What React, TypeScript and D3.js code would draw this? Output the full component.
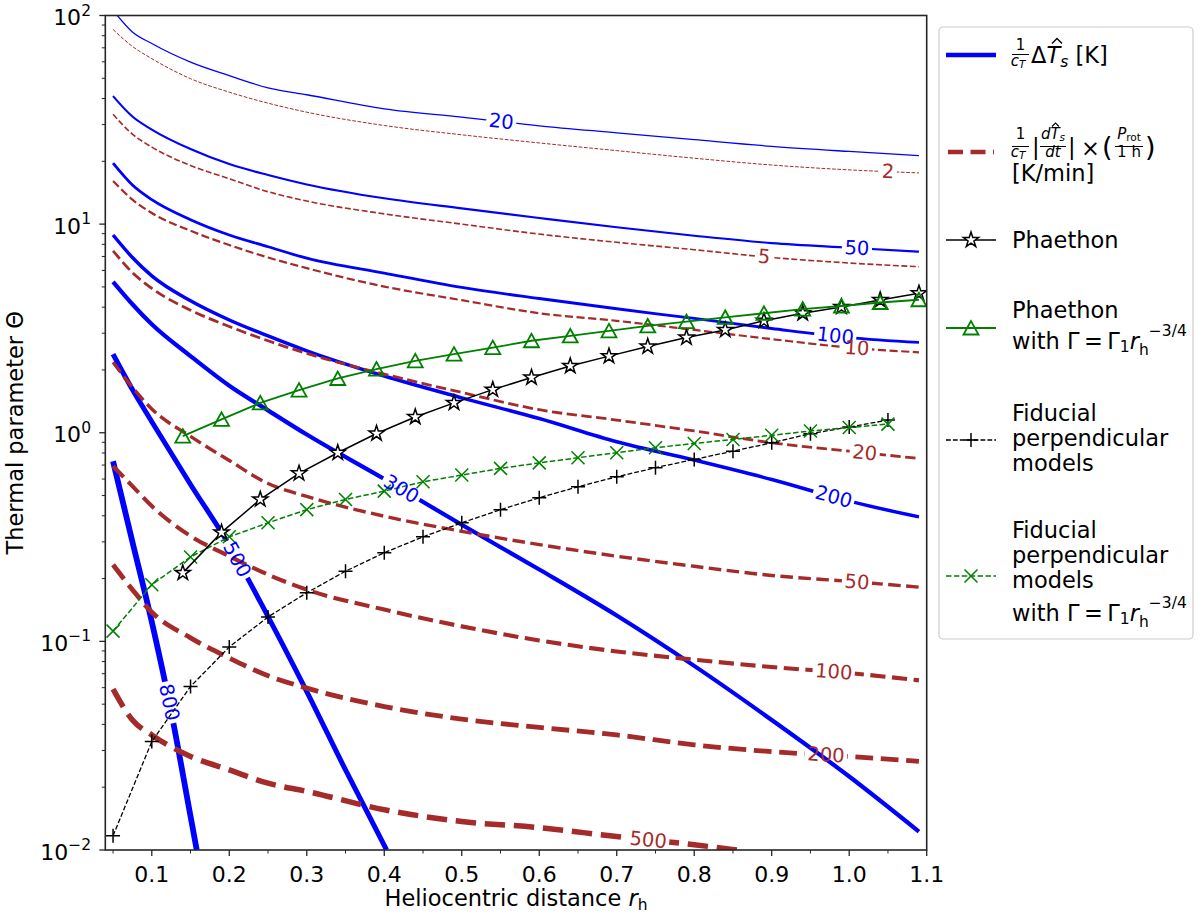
import { curveLinear, curveMonotoneX, line, scaleLinear, scaleLog } from 'd3';

// heliocentric distance grid of the contour polylines
const rGrid = [0.05, 0.075, 0.1, 0.15, 0.2, 0.25, 0.3, 0.4, 0.5, 0.6, 0.7, 0.8, 0.9, 1.0, 1.09];

// (1/c_T) dT_s [K] contours, levels 20 .. 800
const dT20 = [106, 83.4, 73.4, 59.8, 51.5, 45.0, 41.7, 35.7, 32.6, 29.6, 27.4, 25.4, 23.6, 22.3, 21.3];
const dT50 = [41.1, 32.8, 28.4, 22.9, 19.4, 17.2, 15.5, 13.3, 11.9, 10.7, 9.66, 8.8, 8.11, 7.71, 7.38];
const dT100 = [19.6, 15.4, 13.1, 10.5, 8.87, 7.79, 6.87, 5.82, 4.97, 4.4, 3.93, 3.53, 3.16, 2.86, 2.71];
const dT200 = [8.87, 6.92, 5.65, 4.29, 3.47, 2.91, 2.47, 1.87, 1.47, 1.17, 0.906, 0.74, 0.597, 0.47, 0.395];
const dT300 = [5.29, 4.13, 3.31, 2.33, 1.68, 1.28, 0.98, 0.6, 0.362, 0.221, 0.133, 0.0763, 0.042, 0.0225, 0.01225];
const rGrid500 = [0.05, 0.075, 0.1, 0.15, 0.2, 0.25, 0.3, 0.35, 0.403];
const dT500 = [2.38, 1.61, 1.13, 0.565, 0.289, 0.1315, 0.0575, 0.0242, 0.01];
const rGrid800 = [0.05, 0.075, 0.1, 0.125, 0.15, 0.158];
const dT800 = [0.73, 0.3, 0.124, 0.046, 0.0145, 0.01];

// (1/c_T)|dT_s/dt| x (P_rot/1h) [K/min] contours, levels 2 .. 500
const rate2 = [85.7, 71.1, 62.1, 49.8, 42.9, 38.0, 34.4, 29.7, 26.8, 24.5, 22.5, 20.7, 19.2, 18.2, 17.6];
const rate5 = [33.6, 27.0, 23.4, 19.1, 16.5, 14.3, 12.9, 11.2, 10.0, 8.96, 8.18, 7.54, 6.92, 6.51, 6.25];
const rate10 = [16.1, 13.1, 11.3, 9.29, 7.94, 6.92, 6.15, 5.02, 4.32, 3.74, 3.44, 3.11, 2.81, 2.56, 2.43];
const rate20 = [7.45, 5.86, 4.92, 3.87, 3.23, 2.76, 2.4, 1.91, 1.56, 1.29, 1.15, 1.02, 0.895, 0.816, 0.753];
const rate50 = [2.18, 1.65, 1.3, 0.96, 0.736, 0.571, 0.495, 0.398, 0.337, 0.291, 0.256, 0.229, 0.207, 0.194, 0.182];
const rate100 = [0.692, 0.555, 0.445, 0.32, 0.256, 0.209, 0.177, 0.142, 0.118, 0.101, 0.0895, 0.0817, 0.0753, 0.0705, 0.065];
const rate200 = [0.233, 0.177, 0.138, 0.104, 0.0832, 0.0684, 0.0597, 0.0487, 0.0424, 0.0387, 0.0356, 0.0319, 0.0296, 0.0281, 0.0266];
const rGridRate500 = [0.05, 0.075, 0.1, 0.15, 0.2, 0.25, 0.3, 0.4, 0.5, 0.6, 0.7, 0.8, 0.855];
const rate500 = [0.059, 0.042, 0.0356, 0.0281, 0.0242, 0.0209, 0.0191, 0.0156, 0.0137, 0.0128, 0.0116, 0.0106, 0.01];

// model curves
const rPhaethon = [0.14, 0.19, 0.24, 0.29, 0.34, 0.39, 0.44, 0.49, 0.54, 0.59, 0.64, 0.69, 0.74, 0.79, 0.84, 0.89, 0.94, 0.99, 1.04, 1.09];
const thetaPhaethon = [0.213, 0.333, 0.479, 0.639, 0.802, 0.992, 1.19, 1.39, 1.61, 1.84, 2.09, 2.33, 2.59, 2.86, 3.11, 3.44, 3.74, 4.01, 4.33, 4.66];
const thetaPhaethonGamma = [0.963, 1.16, 1.39, 1.6, 1.82, 2.02, 2.21, 2.38, 2.56, 2.76, 2.91, 3.08, 3.25, 3.41, 3.57, 3.74, 3.91, 4.05, 4.21, 4.34];
const rFiducial = [0.05, 0.1, 0.15, 0.2, 0.25, 0.3, 0.35, 0.4, 0.45, 0.5, 0.55, 0.6, 0.65, 0.7, 0.75, 0.8, 0.85, 0.9, 0.95, 1.0, 1.05];
const thetaFiducial = [0.0117, 0.0331, 0.0608, 0.094, 0.131, 0.171, 0.217, 0.266, 0.317, 0.37, 0.428, 0.488, 0.551, 0.615, 0.68, 0.745, 0.816, 0.895, 0.99, 1.065, 1.15];
const thetaFiducialGamma = [0.112, 0.187, 0.254, 0.317, 0.37, 0.428, 0.479, 0.525, 0.582, 0.627, 0.675, 0.717, 0.759, 0.802, 0.848, 0.889, 0.929, 0.972, 1.02, 1.06, 1.1];

// axis ticks
const xTicks = [0.1, 0.2, 0.3, 0.4, 0.5, 0.6, 0.7, 0.8, 0.9, 1.0, 1.1];
const xTickLabels = ['0.1', '0.2', '0.3', '0.4', '0.5', '0.6', '0.7', '0.8', '0.9', '1.0', '1.1'];
const yTicks = [0.01, 0.1, 1, 10, 100];
const yTickExponents = ['\u22122', '\u22121', '0', '1', '2'];

const W = 1200;
const H = 921;
const FONT = 'DejaVu Sans';
const BLUE = '#0000ff';
const BROWN = '#a52a2a';
const GREEN = '#008000';
const FS = 22.5;

const xS = scaleLinear().domain([0.04, 1.1]).range([105.3, 926.7]);
const yS = scaleLog().domain([0.01, 100]).range([850, 15.5]);

interface Contour {
  level: number;
  r: number[];
  v: number[];
  color: string;
  width: number;
  dashed: boolean;
  labelR: number;
}

const dTContours: Contour[] = [
  { level: 20, r: rGrid, v: dT20, color: BLUE, width: 1.3, dashed: false, labelR: 0.551 },
  { level: 50, r: rGrid, v: dT50, color: BLUE, width: 2.1, dashed: false, labelR: 1.01 },
  { level: 100, r: rGrid, v: dT100, color: BLUE, width: 2.8, dashed: false, labelR: 0.982 },
  { level: 200, r: rGrid, v: dT200, color: BLUE, width: 3.5, dashed: false, labelR: 0.98 },
  { level: 300, r: rGrid, v: dT300, color: BLUE, width: 4.2, dashed: false, labelR: 0.422 },
  { level: 500, r: rGrid500, v: dT500, color: BLUE, width: 5.0, dashed: false, labelR: 0.21 },
  { level: 800, r: rGrid800, v: dT800, color: BLUE, width: 5.8, dashed: false, labelR: 0.1224 },
];

const rateContours: Contour[] = [
  { level: 2, r: rGrid, v: rate2, color: BROWN, width: 1.0, dashed: true, labelR: 1.05 },
  { level: 5, r: rGrid, v: rate5, color: BROWN, width: 1.6, dashed: true, labelR: 0.89 },
  { level: 10, r: rGrid, v: rate10, color: BROWN, width: 2.2, dashed: true, labelR: 1.01 },
  { level: 20, r: rGrid, v: rate20, color: BROWN, width: 2.8, dashed: true, labelR: 1.02 },
  { level: 50, r: rGrid, v: rate50, color: BROWN, width: 3.4, dashed: true, labelR: 1.01 },
  { level: 100, r: rGrid, v: rate100, color: BROWN, width: 4.1, dashed: true, labelR: 0.98 },
  { level: 200, r: rGrid, v: rate200, color: BROWN, width: 4.8, dashed: true, labelR: 0.97 },
  { level: 500, r: rGridRate500, v: rate500, color: BROWN, width: 5.5, dashed: true, labelR: 0.7406 },
];

const contourLine = line<[number, number]>()
  .x((d) => xS(d[0]))
  .y((d) => yS(d[1]))
  .curve(curveMonotoneX);

const seriesLine = line<[number, number]>()
  .x((d) => xS(d[0]))
  .y((d) => yS(d[1]))
  .curve(curveLinear);

const zip = (r: number[], v: number[]) => r.map((x, i) => [x, v[i]] as [number, number]);

// position and angle of an inline contour label
const labelPose = (c: Contour) => {
  const pts = c.r.map((r, i) => [xS(r), yS(c.v[i])]);
  const x = xS(c.labelR);
  let i = 0;
  while (i < pts.length - 2 && pts[i + 1][0] < x) i++;
  const [x0, y0] = pts[i];
  const [x1, y1] = pts[i + 1];
  const t = (x - x0) / (x1 - x0);
  const y = y0 + t * (y1 - y0);
  const angle = (Math.atan2(y1 - y0, x1 - x0) * 180) / Math.PI;
  return { x, y, angle };
};

const starPath = (R: number) => {
  const pts: string[] = [];
  for (let k = 0; k < 10; k++) {
    const rad = k % 2 === 0 ? R : R * 0.382;
    const a = -Math.PI / 2 + (k * Math.PI) / 5;
    pts.push(`${(rad * Math.cos(a)).toFixed(2)},${(rad * Math.sin(a)).toFixed(2)}`);
  }
  return `M${pts.join('L')}Z`;
};

const Star = ({ x, y }: { x: number; y: number }) => (
  <path d={starPath(8)} transform={`translate(${x},${y})`} fill="white" stroke="black" strokeWidth={1.5} />
);
const Triangle = ({ x, y }: { x: number; y: number }) => (
  <path d="M0,-7L-7.5,6.5L7.5,6.5Z" transform={`translate(${x},${y})`} fill="none" stroke={GREEN} strokeWidth={1.8} />
);
const Plus = ({ x, y }: { x: number; y: number }) => (
  <path d="M-7,0H7M0,-7V7" transform={`translate(${x},${y})`} stroke="black" strokeWidth={1.5} />
);
const Cross = ({ x, y }: { x: number; y: number }) => (
  <path d="M-6.5,-6.5L6.5,6.5M-6.5,6.5L6.5,-6.5" transform={`translate(${x},${y})`} stroke={GREEN} strokeWidth={1.5} />
);

const ContourLayer = ({ contours, prefix }: { contours: Contour[]; prefix: string }) => (
  <>
    {contours.map((c, i) => {
      const p = labelPose(c);
      const tw = String(c.level).length * 12.1 + 6;
      const id = `${prefix}-${i}`;
      return (
        <g key={id}>
          <mask id={id} maskUnits="userSpaceOnUse" x={0} y={0} width={W} height={H}>
            <rect width={W} height={H} fill="white" />
            <rect
              x={-tw / 2}
              y={-11}
              width={tw}
              height={22}
              fill="black"
              transform={`translate(${p.x},${p.y}) rotate(${p.angle})`}
            />
          </mask>
          <path
            d={contourLine(zip(c.r, c.v)) ?? ''}
            fill="none"
            stroke={c.color}
            strokeWidth={c.width}
            strokeDasharray={c.dashed ? `${3.7 * c.width},${1.6 * c.width}` : undefined}
            mask={`url(#${id})`}
          />
        </g>
      );
    })}
  </>
);

const ContourLabels = ({ contours }: { contours: Contour[] }) => (
  <>
    {contours.map((c, i) => {
      const p = labelPose(c);
      return (
        <text
          key={i}
          transform={`translate(${p.x},${p.y}) rotate(${p.angle})`}
          textAnchor="middle"
          dominantBaseline="central"
          fontSize={19.5}
          fill={c.color}
        >
          {c.level}
        </text>
      );
    })}
  </>
);

const GammaLaw = ({ x, y }: { x: number; y: number }) => (
  <text x={x} y={y} fontSize={FS}>
    with Γ{'\u2009'}={'\u2009'}Γ<tspan fontSize={15.5} dy={3}>1</tspan>
    <tspan fontStyle="italic" dy={-3}>r</tspan>
    <tspan fontSize={15.5} dy={6}>h</tspan>
    <tspan fontSize={15.5} dy={-19}>−3/4</tspan>
  </text>
);

const minorX = xTicks.map((t) => t - 0.05);
const minorY: number[] = [];
for (let d = -2; d < 2; d++) for (let k = 2; k <= 9; k++) minorY.push(k * 10 ** d);

export default function App() {
  const L = 105.3;
  const R = 926.7;
  const T = 15.5;
  const B = 850;
  const axisColor = '#262626';

  return (
    <svg
      width={W}
      height={H}
      viewBox={`0 0 ${W} ${H}`}
      style={{ position: 'absolute', left: 0, top: 0, background: 'white' }}
      fontFamily={FONT}
    >
      <defs>
        <clipPath id="plot-clip">
          <rect x={L} y={T} width={R - L} height={B - T} />
        </clipPath>
      </defs>
      <rect width={W} height={H} fill="white" />

      <g clipPath="url(#plot-clip)">
        <ContourLayer contours={dTContours} prefix="dt" />
        <ContourLayer contours={rateContours} prefix="rate" />

        <path d={seriesLine(zip(rFiducial, thetaFiducial)) ?? ''} fill="none" stroke="black" strokeWidth={1.3} strokeDasharray="4.8,2.1" />
        {rFiducial.map((r, i) => (
          <Plus key={`p${i}`} x={xS(r)} y={yS(thetaFiducial[i])} />
        ))}
        <path d={seriesLine(zip(rFiducial, thetaFiducialGamma)) ?? ''} fill="none" stroke={GREEN} strokeWidth={1.5} strokeDasharray="5.5,2.4" />
        {rFiducial.map((r, i) => (
          <Cross key={`x${i}`} x={xS(r)} y={yS(thetaFiducialGamma[i])} />
        ))}
        <path d={seriesLine(zip(rPhaethon, thetaPhaethon)) ?? ''} fill="none" stroke="black" strokeWidth={1.5} />
        {rPhaethon.map((r, i) => (
          <Star key={`s${i}`} x={xS(r)} y={yS(thetaPhaethon[i])} />
        ))}
        <path d={seriesLine(zip(rPhaethon, thetaPhaethonGamma)) ?? ''} fill="none" stroke={GREEN} strokeWidth={1.8} />
        {rPhaethon.map((r, i) => (
          <Triangle key={`t${i}`} x={xS(r)} y={yS(thetaPhaethonGamma[i])} />
        ))}

        <ContourLabels contours={dTContours} />
        <ContourLabels contours={rateContours} />
      </g>

      {/* axes frame */}
      <rect x={L} y={T} width={R - L} height={B - T} fill="none" stroke={axisColor} strokeWidth={1.6} />

      {/* x ticks */}
      {xTicks.map((t, i) => (
        <g key={`xt${i}`}>
          <line x1={xS(t)} x2={xS(t)} y1={B} y2={B + 6} stroke={axisColor} strokeWidth={1.3} />
          <text x={xS(t)} y={B + 31.5} textAnchor="middle" fontSize={22}>
            {xTickLabels[i]}
          </text>
        </g>
      ))}
      {minorX.map((t, i) => (
        <line key={`xm${i}`} x1={xS(t)} x2={xS(t)} y1={B} y2={B + 3.5} stroke={axisColor} strokeWidth={1} />
      ))}

      {/* y ticks */}
      {yTicks.map((t, i) => (
        <g key={`yt${i}`}>
          <line x1={L - 6} x2={L} y1={yS(t)} y2={yS(t)} stroke={axisColor} strokeWidth={1.3} />
          <text x={91} y={yS(t) + 9.5} textAnchor="end" fontSize={22}>
            10
            <tspan dy={-9.5} fontSize={15.5}>
              {yTickExponents[i]}
            </tspan>
          </text>
        </g>
      ))}
      {minorY.map((t, i) => (
        <line key={`ym${i}`} x1={L - 3.5} x2={L} y1={yS(t)} y2={yS(t)} stroke={axisColor} strokeWidth={1} />
      ))}

      {/* axis labels */}
      <text x={(L + R) / 2} y={906} textAnchor="middle" fontSize={FS}>
        Heliocentric distance <tspan fontStyle="italic">r</tspan>
        <tspan fontSize={15.5} dy={4}>
          h
        </tspan>
      </text>
      <text transform={`translate(23,${(T + B) / 2}) rotate(-90)`} textAnchor="middle" fontSize={FS}>
        Thermal parameter Θ
      </text>

      {/* legend */}
      <g>
        <rect x={939} y={27} width={254} height={612} rx={4} fill="white" stroke="#cccccc" strokeWidth={1.2} />

        {/* entry 1 */}
        <line x1={946} x2={996} y1={55} y2={55} stroke={BLUE} strokeWidth={4.5} />
        <text x={1020.5} y={50} textAnchor="middle" fontSize={15}>1</text>
        <line x1={1012} x2={1029} y1={54.5} y2={54.5} stroke="black" strokeWidth={1} />
        <text x={1018} y={66} textAnchor="middle" fontSize={15} fontStyle="italic">
          c<tspan fontSize={10.5} dy={2}>T</tspan>
        </text>
        <text x={1031} y={63} fontSize={FS}>
          Δ<tspan fontStyle="italic">T</tspan>
          <tspan fontSize={15.5} fontStyle="italic" dy={4}>s</tspan>
          <tspan dy={-4}> [K]</tspan>
        </text>
        <path d="M1052,43.5L1057,38.5L1062,43.5" fill="none" stroke="black" strokeWidth={1.4} />

        {/* entry 2 */}
        <line x1={948} x2={994} y1={152} y2={152} stroke={BROWN} strokeWidth={4.5} strokeDasharray="15,7.5" />
        <text x={1020.5} y={139} textAnchor="middle" fontSize={15}>1</text>
        <line x1={1012} x2={1029} y1={146.5} y2={146.5} stroke="black" strokeWidth={1} />
        <text x={1018} y={157} textAnchor="middle" fontSize={15} fontStyle="italic">
          c<tspan fontSize={10.5} dy={2}>T</tspan>
        </text>
        <text x={1032} y={155} fontSize={FS}>|</text>
        <text x={1053} y={139} textAnchor="middle" fontSize={15} fontStyle="italic">
          dT<tspan fontSize={10.5} dy={2}>s</tspan>
        </text>
        <path d="M1052,126.5L1055.5,123L1059,126.5" fill="none" stroke="black" strokeWidth={1.1} />
        <line x1={1040} x2={1066} y1={146.5} y2={146.5} stroke="black" strokeWidth={1} />
        <text x={1053} y={157} textAnchor="middle" fontSize={15} fontStyle="italic">dt</text>
        <text x={1068} y={155} fontSize={FS}>|</text>
        <text x={1081} y={156} fontSize={FS}>×</text>
        <text x={1102} y={156} fontSize={27}>(</text>
        <text x={1129} y={139} textAnchor="middle" fontSize={15}>
          <tspan fontStyle="italic">P</tspan>
          <tspan fontSize={10.5} dy={2}>rot</tspan>
        </text>
        <line x1={1115} x2={1143} y1={146.5} y2={146.5} stroke="black" strokeWidth={1} />
        <text x={1129} y={157} textAnchor="middle" fontSize={15}>1 h</text>
        <text x={1145} y={156} fontSize={27}>)</text>
        <text x={1012} y={181} fontSize={FS}>[K/min]</text>

        {/* entry 3 */}
        <line x1={946} x2={996} y1={240} y2={240} stroke="black" strokeWidth={1.5} />
        <Star x={971} y={240} />
        <text x={1012} y={248} fontSize={FS}>Phaethon</text>

        {/* entry 4 */}
        <line x1={946} x2={996} y1={328} y2={328} stroke={GREEN} strokeWidth={1.8} />
        <Triangle x={971} y={328} />
        <text x={1012} y={318} fontSize={FS}>Phaethon</text>
        <GammaLaw x={1012} y={349} />

        {/* entry 5 */}
        <line x1={946} x2={996} y1={440} y2={440} stroke="black" strokeWidth={1.3} strokeDasharray="4.8,2.1" />
        <Plus x={971} y={440} />
        <text x={1012} y={421} fontSize={FS}>Fiducial</text>
        <text x={1012} y={446} fontSize={FS}>perpendicular</text>
        <text x={1012} y={471} fontSize={FS}>models</text>

        {/* entry 6 */}
        <line x1={946} x2={996} y1={576} y2={576} stroke={GREEN} strokeWidth={1.5} strokeDasharray="5.5,2.4" />
        <Cross x={971} y={576} />
        <text x={1012} y={538} fontSize={FS}>Fiducial</text>
        <text x={1012} y={563} fontSize={FS}>perpendicular</text>
        <text x={1012} y={588} fontSize={FS}>models</text>
        <GammaLaw x={1012} y={621} />
      </g>
    </svg>
  );
}
